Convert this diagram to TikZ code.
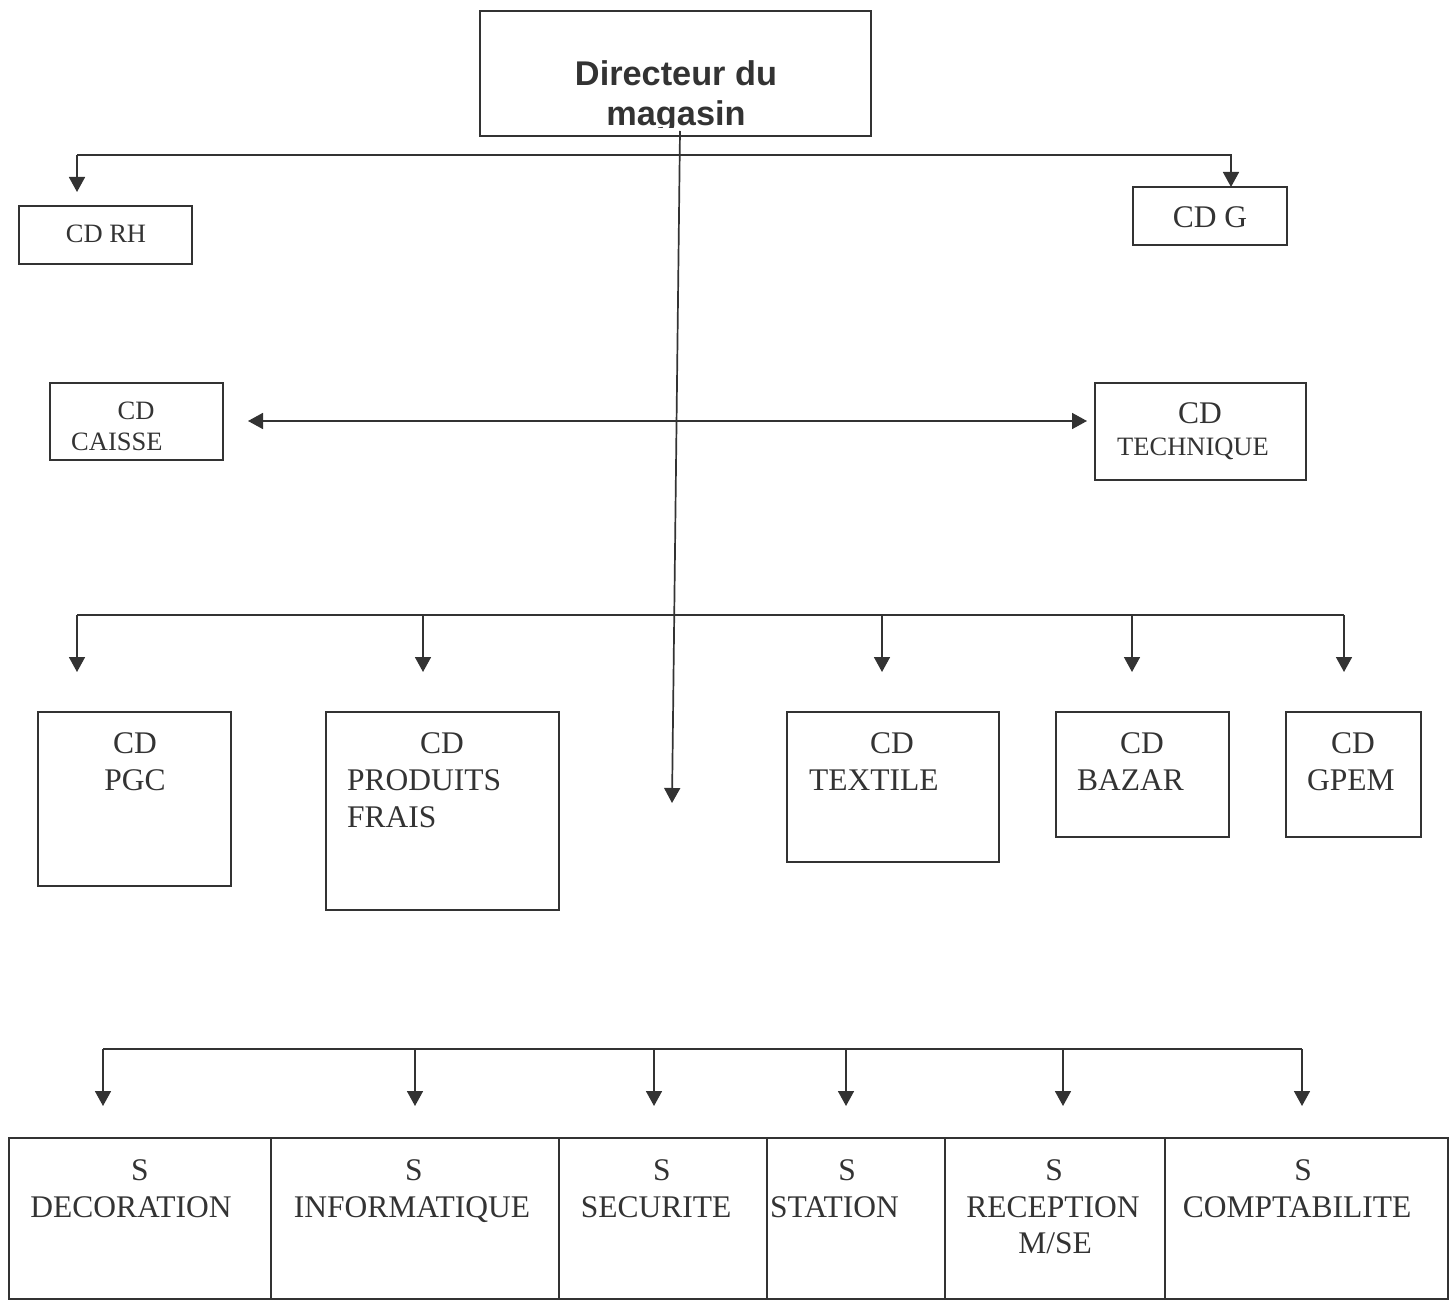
\documentclass[tikz,border=0pt]{standalone}
\usepackage{fontspec}
\setmainfont{Liberation Serif}
\newfontfamily\dirfont{Liberation Sans}
\usetikzlibrary{arrows.meta}
\definecolor{ink}{HTML}{333333}
\begin{document}
\begin{tikzpicture}[x=1pt,y=-1pt,
  box/.style={draw=ink, line width=1.7pt, rectangle, inner sep=0pt, outer sep=0pt, anchor=north west},
  txt/.style={anchor=base, inner sep=0pt, text=ink, font=\fontsize{31.5}{37}\selectfont},
  txtl/.style={txt, anchor=base west},
  stxt/.style={txt, font=\fontsize{26.5}{31}\selectfont},
  stxtl/.style={stxt, anchor=base west},
  link/.style={draw=ink, line width=1.7pt},
  arr/.style={link, -{Triangle[width=16pt,length=15pt]}},
  darr/.style={link, {Triangle[width=16pt,length=15pt]}-{Triangle[width=16pt,length=15pt]}}]
\useasboundingbox (0,0) rectangle (1454,1305);

% Director
\node[box, minimum width=391, minimum height=125] (dir) at (480,11) {};
\begin{scope}
\clip (480,11) rectangle (871,128);
\node[txt, font=\dirfont\bfseries\fontsize{34.3}{40}\selectfont] (dir1) at (676,86) {Directeur du};
\node[txt, font=\dirfont\bfseries\fontsize{34.3}{40}\selectfont] (dir2) at (676,126) {magasin};
\end{scope}

% Top row boxes
\node[box, minimum width=173, minimum height=58] (rh) at (19,206) {};
\node[stxt] (rht) at (106,243) {CD RH};
\node[box, minimum width=154, minimum height=58] (g) at (1133,187) {};
\node[txt] (gt) at (1210,228) {CD G};

\node[box, minimum width=173, minimum height=77] (caisse) at (50,383) {};
\node[stxt] (caisse1) at (136,420) {CD};
\node[stxtl] (caisse2) at (71,450) {CAISSE};
\node[box, minimum width=211, minimum height=97] (tech) at (1095,383) {};
\node[txt] (tech1) at (1200,424) {CD};
\node[stxtl] (tech2) at (1117,455) {TECHNIQUE};

% Middle boxes
\node[box, minimum width=193, minimum height=174] (pgc) at (38,712) {};
\node[txt] (pgc1) at (135,753) {CD};
\node[txt] (pgc2) at (135,790) {PGC};
\node[box, minimum width=233, minimum height=198] (pf) at (326,712) {};
\node[txt] (pf1) at (442,753) {CD};
\node[txtl] (pf2) at (347,790) {PRODUITS};
\node[txtl] (pf3) at (347,827) {FRAIS};
\node[box, minimum width=212, minimum height=150] (tex) at (787,712) {};
\node[txt] (tex1) at (892,753) {CD};
\node[txtl] (tex2) at (809,790) {TEXTILE};
\node[box, minimum width=173, minimum height=125] (baz) at (1056,712) {};
\node[txt] (baz1) at (1142,753) {CD};
\node[txtl] (baz2) at (1077,790) {BAZAR};
\node[box, minimum width=135, minimum height=125] (gpem) at (1286,712) {};
\node[txt] (gpem1) at (1353,753) {CD};
\node[txtl] (gpem2) at (1307,790) {GPEM};

% Bottom row
\node[box, minimum width=262, minimum height=161] (s1) at (9,1138) {};
\node[box, minimum width=288, minimum height=161] (s2) at (271,1138) {};
\node[box, minimum width=208, minimum height=161] (s3) at (559,1138) {};
\node[box, minimum width=178, minimum height=161] (s4) at (767,1138) {};
\node[box, minimum width=220, minimum height=161] (s5) at (945,1138) {};
\node[box, minimum width=283, minimum height=161] (s6) at (1165,1138) {};
\node[txt] (s1a) at (140,1180) {S};
\node[txt] (s1b) at (131,1217) {DECORATION};
\node[txt] (s2a) at (414,1180) {S};
\node[txt] (s2b) at (412,1217) {INFORMATIQUE};
\node[txt] (s3a) at (662,1180) {S};
\node[txt] (s3b) at (656,1217) {SECURITE};
\node[txt] (s4a) at (847,1180) {S};
\node[txtl] (s4b) at (770,1217) {STATION};
\node[txt] (s5a) at (1054,1180) {S};
\node[txt] (s5b) at (1053,1217) {RECEPTION};
\node[txt] (s5c) at (1055,1253) {M/SE};
\node[txt] (s6a) at (1303,1180) {S};
\node[txt] (s6b) at (1297,1217) {COMPTABILITE};

% Coordinates
\coordinate (dstart) at (680,131);
\coordinate (dend) at (672,803);
\coordinate (t1) at (77,155);
\coordinate (t2) at (1231,155);
\coordinate (rhtip) at (77,192);
\coordinate (da) at (248,421);
\coordinate (db) at (1087,421);
\coordinate (m1) at (77,615);
\coordinate (m2) at (1344,615);
\coordinate (b1) at (103,1049);
\coordinate (b2) at (1302,1049);

% Connectors
\draw[arr] (dstart) -- (dend);
\draw[arr] (t1) -- (t2) -- (g.north -| t2);
\draw[arr] (t1) -- (rhtip);
\draw[darr] (da) -- (db);

\draw[link] (m1) -- (m2);
\foreach \x in {77,423,882,1132,1344}
  \draw[arr] (\x,615) -- (\x,672);

\draw[link] (b1) -- (b2);
\foreach \x in {103,415,654,846,1063,1302}
  \draw[arr] (\x,1049) -- (\x,1106);
\end{tikzpicture}
\end{document}
